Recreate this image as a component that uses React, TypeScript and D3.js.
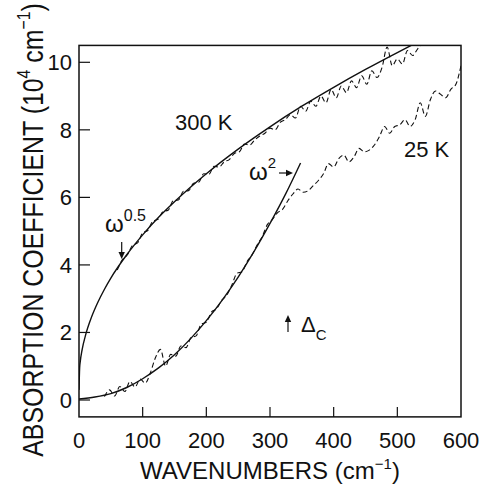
import React from "react";
import * as d3 from "d3";

// ---- data ----
// 300 K fit curve (omega^0.5)
const fit300W = [0, 1, 2, 5, 10, 20, 30, 40, 50, 75, 100, 125, 150, 175, 200, 250, 300, 350, 400, 450, 500, 530];
const fit300A = [0.3, 0.95, 1.14, 1.5, 1.9, 2.47, 2.91, 3.28, 3.61, 4.3, 4.89, 5.41, 5.87, 6.3, 6.7, 7.43, 8.09, 8.7, 9.26, 9.79, 10.29, 10.58];
// 25 K fit curve (omega^2)
const fit25W = [0, 25, 50, 75, 100, 125, 150, 175, 200, 225, 250, 275, 300, 325, 348];
const fit25A = [0.03, 0.09, 0.19, 0.37, 0.63, 0.95, 1.34, 1.81, 2.35, 2.96, 3.64, 4.4, 5.23, 6.12, 7.02];
// 300 K measured data (dashed)
const data300W = [60, 68, 76, 84, 92, 100, 108, 116, 124, 132, 140, 148, 156, 164, 172, 180, 188, 196, 204, 212, 220, 228, 236, 244, 252, 260, 268, 276, 284, 292, 300, 308, 316, 324, 332, 340, 348, 356, 364, 372, 380, 388, 396, 404, 412, 420, 428, 436, 444, 452, 460, 468, 476, 484, 492, 500, 508, 516, 524, 532, 540];
const data300A = [3.85, 4.15, 4.3, 4.58, 4.65, 4.95, 5.02, 5.3, 5.35, 5.58, 5.62, 5.9, 5.92, 6.18, 6.2, 6.42, 6.45, 6.7, 6.68, 6.92, 6.9, 7.05, 7.12, 7.3, 7.35, 7.58, 7.55, 7.7, 7.82, 7.9, 8.05, 8.0, 8.22, 8.3, 8.45, 8.35, 8.7, 8.55, 8.85, 8.7, 9.0, 8.8, 9.2, 8.95, 9.3, 9.1, 9.45, 9.25, 9.6, 9.35, 9.75, 9.55, 9.85, 10.45, 9.9, 10.1, 9.95, 10.35, 10.2, 10.4, 10.55];
// 25 K measured data (dashed)
const data25W = [40, 48, 56, 64, 72, 80, 88, 96, 104, 112, 120, 128, 136, 144, 152, 160, 168, 176, 184, 192, 200, 208, 216, 224, 232, 240, 248, 256, 264, 272, 280, 288, 296, 304, 312, 320, 328, 336, 344, 352, 360, 368, 376, 384, 392, 400, 408, 416, 424, 432, 440, 448, 456, 464, 472, 480, 488, 496, 504, 512, 520, 528, 536, 544, 552, 560, 568, 576, 584, 592, 600];
const data25A = [0.1, 0.3, 0.12, 0.4, 0.25, 0.55, 0.38, 0.62, 0.5, 0.8, 1.25, 1.5, 1.0, 1.35, 1.3, 1.6, 1.55, 1.85, 1.9, 2.25, 2.3, 2.6, 2.7, 2.95, 3.1, 3.4, 3.75, 3.8, 4.1, 4.3, 4.6, 4.85, 5.2, 5.35, 5.55, 5.65, 5.9, 6.1, 6.25, 6.15, 6.2, 6.35, 6.5, 6.7, 7.0, 6.9, 7.15, 7.25, 7.05, 7.2, 7.45, 7.35, 7.4, 7.55, 7.8, 8.1, 7.9, 8.1, 8.15, 8.3, 8.1, 8.3, 8.8, 8.4, 8.9, 9.15, 9.05, 8.95, 9.2, 9.35, 9.9];

const xTicks = [0, 100, 200, 300, 400, 500, 600];
const yTicks = [0, 2, 4, 6, 8, 10];

const FONT = "'Liberation Sans', Arial, Helvetica, sans-serif";

export default function App() {
  const x = d3.scaleLinear().domain([0, 600]).range([79, 461]);
  const y = d3.scaleLinear().domain([0, 10]).range([400, 62.3]);
  const x0 = x(0), x1 = x(600), yb = y(-0.5), yt = y(10.5);

  const line = d3.line<[number, number]>().x(d => x(d[0])).y(d => y(d[1])).curve(d3.curveMonotoneX);
  const zip = (a: number[], b: number[]) => a.map((v, i) => [v, b[i]] as [number, number]);

  const arrowHead = (px: number, py: number, dir: "down" | "up" | "right") => {
    const L = 7, W = 3.2;
    let p = "";
    if (dir === "down") p = `M${px},${py} L${px - W},${py - L} L${px + W},${py - L} Z`;
    if (dir === "up") p = `M${px},${py} L${px - W},${py + L} L${px + W},${py + L} Z`;
    if (dir === "right") p = `M${px},${py} L${px - L},${py - W} L${px - L},${py + W} Z`;
    return <path d={p} fill="#111" />;
  };

  return (
    <svg width={484} height={488} style={{ position: "absolute", left: 0, top: 0, background: "#fff" }} fontFamily={FONT}>
      <defs>
        <clipPath id="plot">
          <rect x={x0} y={yt} width={x1 - x0} height={yb - yt} />
        </clipPath>
      </defs>
      <rect width={484} height={488} fill="#fff" />
      <g clipPath="url(#plot)" fill="none" stroke="#111">
        <path d={line(zip(fit300W, fit300A)) || ""} strokeWidth={1.4} />
        <path d={line(zip(fit25W, fit25A)) || ""} strokeWidth={1.4} />
        <path d={line(zip(data300W, data300A)) || ""} strokeWidth={1.1} strokeDasharray="5 3" />
        <path d={line(zip(data25W, data25A)) || ""} strokeWidth={1.1} strokeDasharray="5 3" />
      </g>
      {/* frame */}
      <rect x={x0} y={yt} width={x1 - x0} height={yb - yt} fill="none" stroke="#111" strokeWidth={1.5} />
      {/* ticks */}
      {xTicks.slice(1, -1).map(t => (
        <line key={"xt" + t} x1={x(t)} x2={x(t)} y1={yb} y2={yb - 10} stroke="#111" strokeWidth={1.2} />
      ))}
      {yTicks.map(t => (
        <line key={"yt" + t} x1={x0} x2={x0 + 11} y1={y(t)} y2={y(t)} stroke="#111" strokeWidth={1.2} />
      ))}
      {xTicks.map(t => (
        <text key={"xl" + t} x={x(t)} y={448} fontSize={22} textAnchor="middle" fill="#111">{t}</text>
      ))}
      {yTicks.map(t => (
        <text key={"yl" + t} x={72} y={y(t) + 8} fontSize={22} textAnchor="end" fill="#111">{t}</text>
      ))}
      {/* axis titles */}
      <text x={270} y={479} fontSize={24} textAnchor="middle" fill="#111">
        WAVENUMBERS (cm<tspan fontSize={15} dy={-10}>−1</tspan><tspan dy={10}>)</tspan>
      </text>
      <g transform="translate(43,230) rotate(-90) scale(0.83,1)">
        <text x={0} y={0} fontSize={30} textAnchor="middle" fill="#111">
          ABSORPTION COEFFICIENT (10<tspan fontSize={19} dy={-13}>4</tspan><tspan dy={13}> cm</tspan><tspan fontSize={19} dy={-13}>−1</tspan><tspan dy={13}>)</tspan>
        </text>
      </g>
      {/* annotations */}
      <text x={175} y={130} fontSize={22} fill="#111">300 K</text>
      <text x={404} y={157} fontSize={22} fill="#111">25 K</text>
      <text x={105} y={232} fontSize={24} fill="#111">ω<tspan fontSize={16} dy={-11}>0.5</tspan></text>
      <line x1={121.7} x2={121.7} y1={242} y2={254} stroke="#111" strokeWidth={1.2} />
      {arrowHead(121.7, 259, "down")}
      <text x={249} y={180} fontSize={24} fill="#111">ω<tspan fontSize={15} dy={-12}>2</tspan></text>
      <line x1={279} x2={288} y1={173} y2={173} stroke="#111" strokeWidth={1.2} />
      {arrowHead(293, 173, "right")}
      <line x1={288} x2={288} y1={320} y2={332} stroke="#111" strokeWidth={1.2} />
      {arrowHead(288, 315, "up")}
      <text x={301} y={332} fontSize={22} fill="#111">Δ<tspan fontSize={15} dy={8}>C</tspan></text>
    </svg>
  );
}
